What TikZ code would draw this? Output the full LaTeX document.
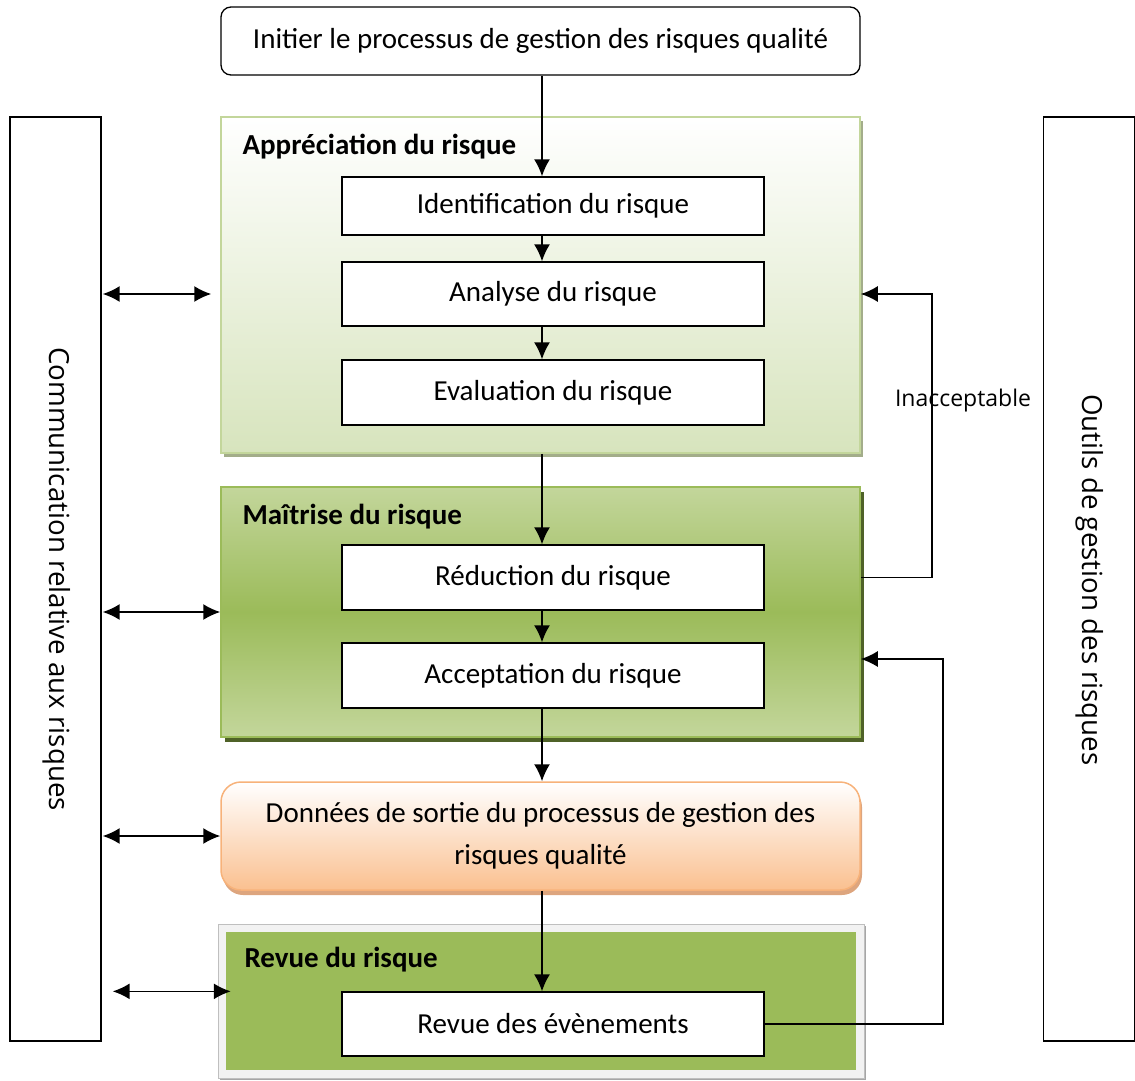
\documentclass[tikz,border=0pt]{standalone}
\usepackage{fontspec}
\setmainfont{Carlito}
\newfontfamily\sidefont{Open Sans}
\usetikzlibrary{arrows.meta,shadows}
\definecolor{vertclair}{HTML}{D7E4BD}
\definecolor{vertbord}{HTML}{C3D69B}
\definecolor{vertmoyen}{HTML}{9BBB59}
\definecolor{vertfonce}{HTML}{4F6228}
\definecolor{ombregris}{HTML}{A3AD8A}
\definecolor{peche}{HTML}{FAC090}
\definecolor{pechebord}{HTML}{F7B27A}
\definecolor{ombrepeche}{HTML}{DDA57E}
\begin{document}
\begin{tikzpicture}
			[x=1pt,y=-1pt,>={Latex[length=17pt,width=16pt]},
			stepbox/.style={draw,fill=white,line width=1.3pt,minimum width=422pt,minimum height=64pt,font=\fontsize{29}{34}\selectfont},
			titre/.style={anchor=west,font=\fontsize{29}{34}\selectfont\bfseries},
			cadre/.style={draw,line width=1.3pt,minimum width=91pt,minimum height=924pt},
			fleche/.style={line width=1.7pt}]
			\useasboundingbox (0,0) rectangle (1135,1081);
			% cadres lateraux
			\node[cadre,name=comm] at (55.5,579) {};
			\node[cadre,name=outils] at (1089,579) {};
			\node[rotate=-90,font=\sidefont\fontsize{27.7}{32}\selectfont] at (57,579) {Communication relative aux risques};
			\node[rotate=-90,font=\sidefont\fontsize{27.7}{32}\selectfont] at (1090,580) {Outils de gestion des risques};
			% blocs
			\node[draw,rounded corners=10pt,line width=1.3pt,minimum width=639pt,minimum height=68pt,font=\fontsize{29}{34}\selectfont,name=init] at (540.5,41) {Initier le processus de gestion des risques qualité};
			\node[draw=vertbord,line width=1.5pt,top color=white,bottom color=vertclair,minimum width=639pt,minimum height=336pt,
				drop shadow={shadow xshift=3pt,shadow yshift=-4pt,fill=ombregris,opacity=1},name=appr] at (540.5,285) {};
			\node[draw=vertmoyen,line width=1.5pt,top color=vertbord,bottom color=vertbord,middle color=vertmoyen,minimum width=639pt,minimum height=250pt,
				drop shadow={shadow xshift=4pt,shadow yshift=-5pt,fill=vertfonce,opacity=1},name=maitrise] at (540.5,612) {};
			\node[draw=pechebord,line width=1.5pt,rounded corners=20pt,top color=white,bottom color=peche,minimum width=639pt,minimum height=108pt,align=center,
				font=\fontsize{29}{42}\selectfont,drop shadow={shadow xshift=2pt,shadow yshift=-5pt,fill=ombrepeche,opacity=1},name=donnees] at (540.5,836)
				{Données de sortie du processus de gestion des\\risques qualité};
			\node[draw=black!25,fill=black!5,line width=1pt,minimum width=646pt,minimum height=154pt,
				drop shadow={shadow xshift=2pt,shadow yshift=-2pt,fill=black!35,opacity=1},name=revuecadre] at (541,1001) {};
			\node[fill=vertmoyen,minimum width=630pt,minimum height=138pt,name=revue] at (541,1001) {};
			% titres
			\node[titre,name=tappr] at (239,147) {Appréciation du risque};
			\node[titre,name=tmait] at (239,517) {Maîtrise du risque};
			\node[titre,name=trevue] at (241,960) {Revue du risque};
			% etapes
			\node[stepbox,minimum height=58pt,name=ident] at (553,206) {Identification du risque};
			\node[stepbox,name=analyse] at (553,294) {Analyse du risque};
			\node[stepbox,minimum height=65pt,name=eval] at (553,392.5) {Evaluation du risque};
			\node[stepbox,minimum height=65pt,name=reduc] at (553,577.5) {Réduction du risque};
			\node[stepbox,minimum height=65pt,name=accept] at (553,675.5) {Acceptation du risque};
			\node[stepbox,name=revevt] at (553,1024) {Revue des évènements};
			% liaisons
			\coordinate (axe) at (542,0);
			\draw[->,fleche](axe |- init.south)--(axe |- ident.north);
			\draw[->,fleche](axe |- ident.south)--(axe |- analyse.north);
			\draw[->,fleche](axe |- analyse.south)--(axe |- eval.north);
			\draw[->,fleche](axe |- appr.south)--(axe |- reduc.north);
			\draw[->,fleche](axe |- reduc.south)--(axe |- accept.north);
			\draw[->,fleche](axe |- accept.south)--(axe |- donnees.north);
			\draw[->,fleche](axe |- donnees.south)--(axe |- revevt.north);
			% boucles
			\coordinate (boucleA) at (932,0);
			\coordinate (boucleB) at (943,659);
			\draw[->,fleche](maitrise.east |- reduc)--(boucleA |- reduc)--(boucleA |- analyse)--(appr.east |- analyse);
			\draw[->,fleche](revevt.east)--(boucleB |- revevt)--(boucleB)--(maitrise.east |- boucleB);
			\node[font=\sidefont\fontsize{23}{27}\selectfont,name=inacc] at (963,401) {Inacceptable};
			% communication
			\draw[<->,fleche,shorten <=1pt,shorten >=9pt](comm.east |- analyse)--(appr.west |- analyse);
			\draw[<->,fleche,shorten <=1pt](comm.east |- maitrise)--(maitrise.west);
			\draw[<->,fleche,shorten <=1pt](comm.east |- donnees)--(donnees.west);
			\draw[<->,fleche,shorten <=11pt,shorten >=-5pt](comm.east |- revevt.north)--(revue.west |- revevt.north);
		\end{tikzpicture}
\end{document}
